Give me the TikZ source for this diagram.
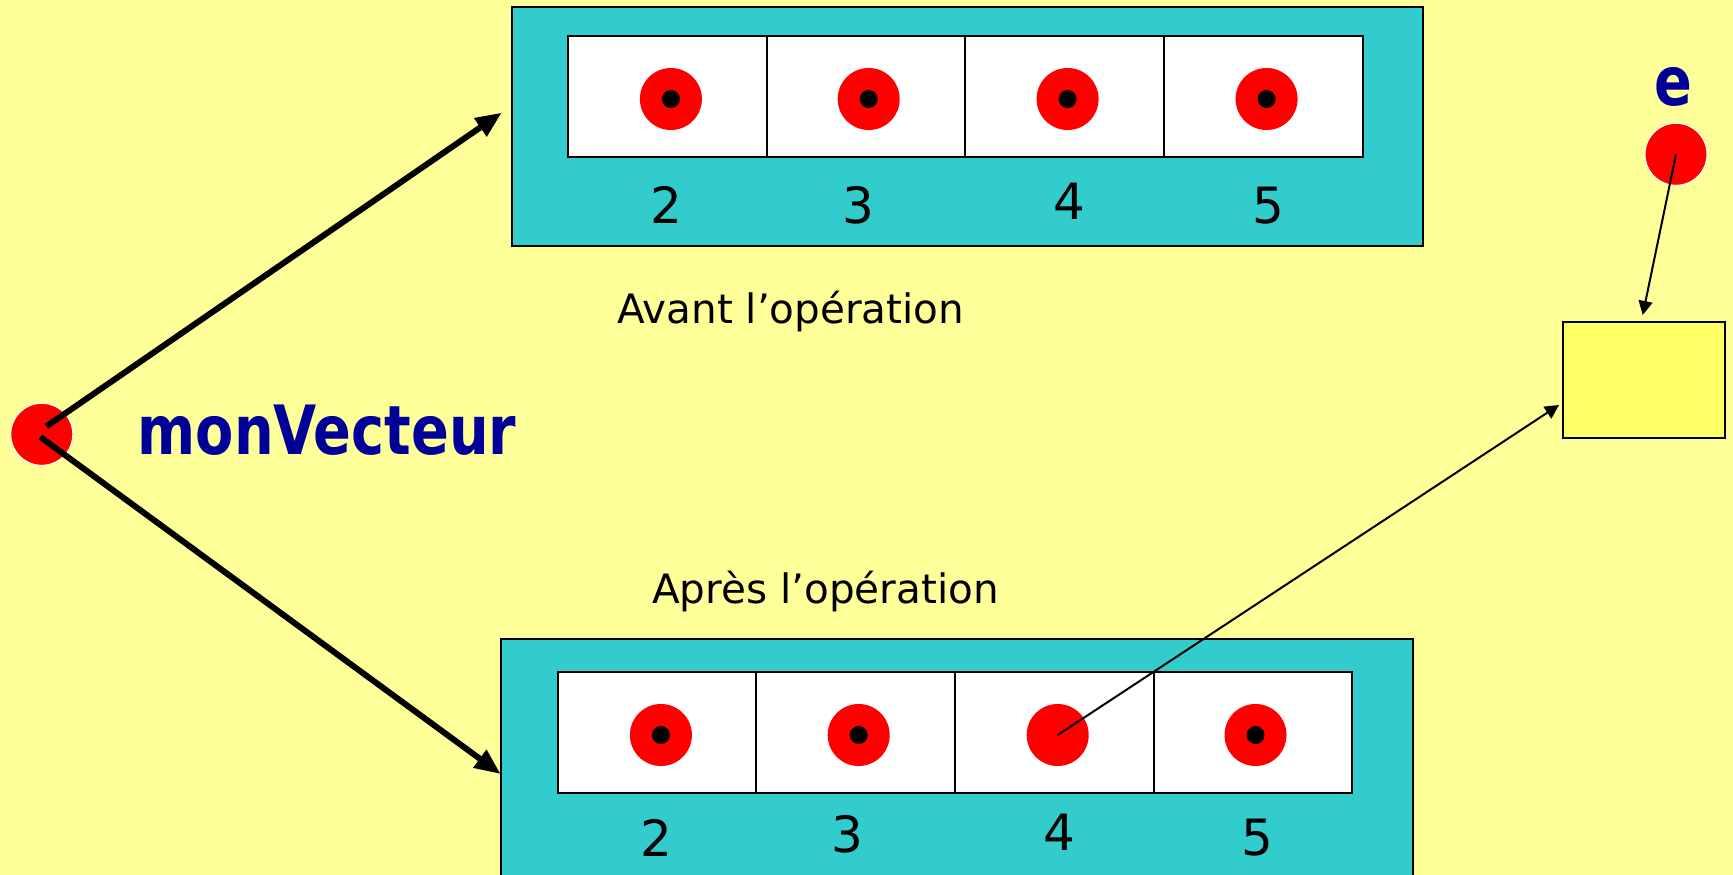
\documentclass[tikz,border=0pt]{standalone}
\usepackage{fontspec}
\setmainfont{DejaVu Sans}
\newfontfamily\mvfont[FakeStretch=0.82]{DejaVu Sans}
\usetikzlibrary{arrows.meta}
\definecolor{bgyellow}{HTML}{FFFF99}
\definecolor{boxyellow}{HTML}{FFFF66}
\definecolor{cyanbox}{HTML}{33CCCC}
\definecolor{darkblue}{HTML}{000099}
\definecolor{dotred}{HTML}{FF0000}
\tikzset{
  cell/.style={draw=black, line width=2pt, fill=white, minimum width=198.6pt, minimum height=121.3pt, inner sep=0pt},
  reddot/.style={circle, fill=dotred, minimum size=62pt, inner sep=0pt},
  blackdot/.style={circle, fill=black, minimum size=18pt, inner sep=0pt},
  ptr/.style={circle, fill=dotred, draw=white, line width=1pt, inner sep=0pt},
  idx/.style={anchor=base, inner sep=0pt, font=\fontsize{50}{60}\selectfont},
  caption/.style={anchor=base west, inner sep=0pt, font=\fontsize{40.5}{48}\selectfont},
  varname/.style={inner sep=0pt, text=darkblue, font=\fontsize{68}{80}\selectfont\mvfont\bfseries},
  thickarrow/.style={line width=6pt, -{Triangle[length=26pt,width=21pt]}},
  thinarrow/.style={line width=2pt, -{Triangle[length=14pt,width=14pt]}},
}
\begin{document}
\begin{tikzpicture}[x=1pt,y=-1pt]
\useasboundingbox (0,0) rectangle (1733,875);
\clip (0,0) rectangle (1733,875);
\fill[bgyellow] (0,0) rectangle (1733,875);

% top vector (before)
\node[draw=black, line width=2pt, fill=cyanbox, minimum width=911.6pt, minimum height=238.4pt, inner sep=0pt] (topbox) at (967.5,126.5) {};
\node[cell] (t1) at (667.6,96.4) {};
\node[cell] (t2) at (866.0,96.4) {};
\node[cell] (t3) at (1064.5,96.4) {};
\node[cell] (t4) at (1263.3,96.4) {};
\foreach \i/\x in {1/670.9,2/868.7,3/1067.6,4/1266.6}{
  \node[reddot] (tr\i) at (\x,99) {};
  \node[blackdot] (tb\i) at (\x,99) {};
}
\node[idx] (tl1) at (666.7,223.3) {2};
\node[idx] (tl2) at (858.7,223.0) {3};
\node[idx] (tl3) at (1069.8,219.0) {4};
\node[idx] (tl4) at (1268.8,223.0) {5};

\node[caption] (avant) at (617,323.3) {Avant l’opération};
\node[caption] (apres) at (652,603.3) {Après l’opération};

% bottom vector (after)
\draw[line width=2pt, fill=cyanbox] (501,900) -- (501,639) -- (1413.3,639) -- (1413.3,900);
\coordinate (botbox) at (957,639);
\node[cell] (b1) at (657.0,732.5) {};
\node[cell] (b2) at (855.5,732.5) {};
\node[cell] (b3) at (1054.2,732.5) {};
\node[cell] (b4) at (1253.0,732.5) {};
\node[reddot] (br1) at (660.9,735) {};
\node[blackdot] (bb1) at (660.9,735) {};
\node[reddot] (br2) at (858.7,735) {};
\node[blackdot] (bb2) at (858.7,735) {};
\node[reddot] (br3) at (1057.7,735) {};
\node[reddot] (br4) at (1255.5,735) {};
\node[blackdot] (bb4) at (1255.5,735) {};
\node[idx] (bl1) at (656.5,856) {2};
\node[idx] (bl2) at (847.7,852.7) {3};
\node[idx] (bl3) at (1059.7,850) {4};
\node[idx] (bl4) at (1257.7,855) {5};

% monVecteur pointer
\node[ptr, minimum size=62pt] (mv) at (41.8,434.3) {};
\node[varname, anchor=base west] (mvname) at (137.5,454.3) {monVecteur};
\coordinate (mvtop) at (46.4,426.4);
\coordinate (mvbot) at (40.4,437);
\coordinate (toptip) at (501.7,112.7);
\coordinate (bottip) at (500.7,774);
\draw[thickarrow] (mvtop) -- (toptip);
\draw[thickarrow] (mvbot) -- (bottip);

% element e
\node[varname, anchor=base] (ename) at (1673,105.5) {e};
\node[ptr, minimum size=62pt] (epnt) at (1676,154.3) {};
\node[draw=black, line width=2pt, fill=boxyellow, minimum width=161.7pt, minimum height=116pt, inner sep=0pt] (obj) at (1644.2,380.3) {};
\coordinate (objtop) at (1642.7,315);
\coordinate (objleft) at (1559,405);
\draw[thinarrow] (epnt.center) -- (objtop);
\draw[thinarrow] (br3.center) -- (objleft);
\end{tikzpicture}
\end{document}
